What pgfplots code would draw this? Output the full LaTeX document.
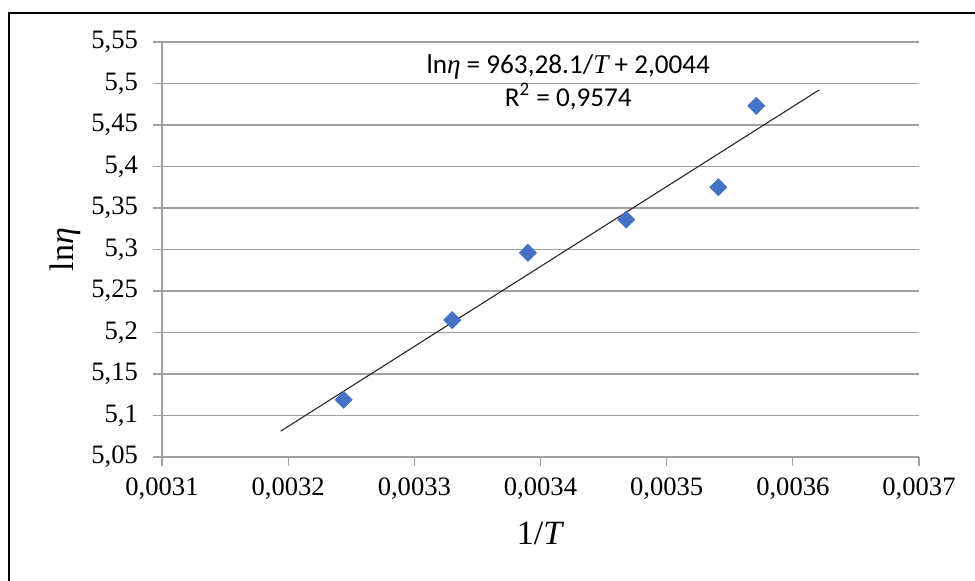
\documentclass[border=0pt]{standalone}
\usepackage{fontspec}
\setmainfont{Liberation Serif}
\newfontfamily\carlito{Carlito}
\usepackage{pgfplots}
\pgfplotsset{compat=1.18}
\definecolor{gridgray}{HTML}{A0A0A0}
\definecolor{ptblue}{HTML}{4472C4}
\begin{document}
\begin{tikzpicture}[x=0.5pt,y=0.5pt]
\useasboundingbox (-162,-123) rectangle (813,457);
\draw[line width=1.1pt] (-153,-130) -- (-153,444) -- (820,444);
\begin{axis}[
  at={(0,0)}, anchor=origin,
  scale only axis, width=378.5pt, height=207.5pt,
  xmin=0.0031, xmax=0.0037, ymin=5.05, ymax=5.55,
  xtick={0.0031,0.0032,0.0033,0.0034,0.0035,0.0036,0.0037},
  ytick={5.05,5.1,5.15,5.2,5.25,5.3,5.35,5.4,5.45,5.5,5.55},
  scaled x ticks=false, scaled y ticks=false,
  xticklabel style={yshift=-2.5pt, /pgf/number format/.cd,fixed,precision=4,use comma,assume math mode=true},
  yticklabel style={xshift=-4pt, /pgf/number format/.cd,fixed,precision=2,use comma,assume math mode=true},
  ticklabel style={font=\fontsize{13.3}{15}\selectfont},
  axis x line*=bottom, axis y line*=left,
  axis line style={gridgray, line width=0.6pt, -},
  tick style={gridgray, line width=0.6pt},
  tick align=outside, major tick length=4.5pt,
  ymajorgrids, major grid style={gridgray, line width=0.6pt},
  xlabel={1/\textit{T}}, ylabel={ln\textit{η}},
  label style={font=\fontsize{17}{20}\selectfont},
  xlabel style={at={(axis description cs:0.5,-0.183)}, anchor=center},
  ylabel style={at={(axis description cs:-0.128,0.5)}, anchor=center, rotate=0},
  clip=false,
]
\addplot[only marks, mark=square*, mark size=3pt, mark options={rotate=45, fill=ptblue, draw=ptblue}] coordinates {
  (0.003244,5.119) (0.003330,5.215) (0.003390,5.296)
  (0.003468,5.336) (0.003541,5.375) (0.003571,5.473)
};
\addplot[color=black!85, line width=0.55pt] coordinates {(0.003194,5.0811) (0.003621,5.4924)};
\node[align=center, font=\carlito\fontsize{13.6}{16.5}\selectfont] at (axis cs:0.003422,5.502)
  {ln{\rmfamily\itshape η} = 963,28.1/{\rmfamily\itshape T} + 2,0044\\R\textsuperscript{2} = 0,9574};
\end{axis}
\end{tikzpicture}
\end{document}
